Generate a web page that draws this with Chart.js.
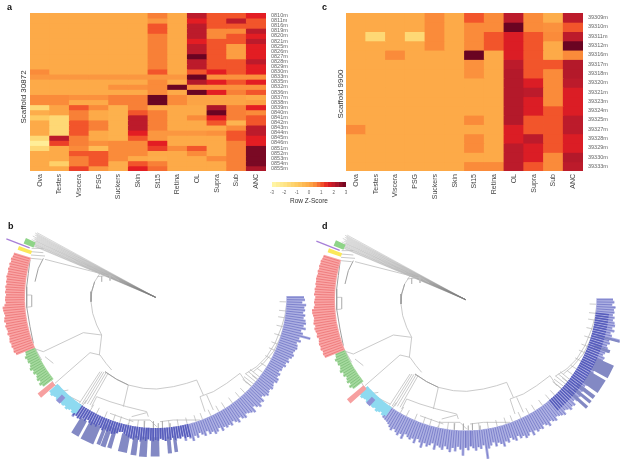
<!DOCTYPE html>
<html><head><meta charset="utf-8">
<script src="https://cdn.jsdelivr.net/npm/chart.js@4/dist/chart.umd.min.js"></script>
<style>
html,body{margin:0;padding:0;background:#fff;width:624px;height:464px;overflow:hidden}
#page{position:relative;width:624px;height:464px;filter:blur(0.55px)}
.p{position:absolute}
.l{position:absolute;font:bold 9px "Liberation Sans";color:#111;line-height:10px}
</style></head><body>
<div id="page">
<div class="l" style="left:7px;top:2px">a</div>
<div class="l" style="left:322px;top:2px">c</div>
<div class="l" style="left:8px;top:221px">b</div>
<div class="l" style="left:322px;top:221px">d</div>
<canvas class="p" id="ca" width="300" height="210" style="left:0;top:0;width:300px;height:210px"></canvas>
<canvas class="p" id="cc" width="324" height="210" style="left:300px;top:0;width:324px;height:210px"></canvas>
<canvas class="p" id="cz" width="100" height="27" style="left:262px;top:178px;width:100px;height:27px"></canvas>
<canvas class="p" id="cb" width="312" height="244" style="left:0;top:220px;width:312px;height:244px"></canvas>
<canvas class="p" id="cd" width="312" height="244" style="left:312px;top:220px;width:312px;height:244px"></canvas>
</div>
<script>
const tissues=['Ova','Testes','Viscera','PSG','Suckers','Skin','St15','Retina','OL','Supra','Sub','ANC'];
const rowsA=['0810m','0811m','0816m','0819m','0820m','0821m','0825m','0826m','0827m','0828m','0829m','0830m','0833m','0835m','0832m','0836m','0837m','0838m','0839m','0840m','0841m','0842m','0843m','0844m','0845m','0846m','0851m','0852m','0853m','0854m','0855m'];
const rowsC=['39309m','39310m','39311m','39312m','39316m','39317m','39318m','39320m','39321m','39323m','39324m','39325m','39327m','39328m','39329m','39330m','39333m'];
const zA=[
[0,0,0,0,0,0,.6,0,2,1,1,1.5],
[0,0,0,0,0,0,.3,0,1.5,1,2,1],
[0,0,0,0,0,0,1,0,2,1,1,1],
[0,0,0,0,0,0,1,0,2,.5,.5,2],
[0,0,0,0,0,0,.6,0,2,.5,1,1.5],
[0,0,0,0,0,0,.6,0,1.5,1,1,2],
[0,0,0,0,0,0,.6,0,2,1,.2,1.5],
[0,0,0,0,0,0,.6,0,2,1,.2,1.5],
[0,0,0,0,0,0,.6,0,3,1,.2,1.5],
[0,0,0,0,0,0,.6,0,2,1,1,2],
[0,0,0,0,0,0,.6,0,2,1,1,1.5],
[.5,0,0,0,0,0,1,0,1,1.5,1,1.5],
[.3,.3,.3,.3,.3,.3,.3,.3,3,.4,.4,.4],
[0,0,0,0,0,0,.5,0,2.1,1.5,1,1.5],
[0,0,0,0,.4,.4,.5,3,.4,.4,.4,.4],
[0,0,0,0,0,0,.5,0,3,1.5,.6,1],
[.5,.5,.4,.4,.6,.6,3,.5,.1,.1,.1,0],
[.5,.5,0,0,.6,.6,3,.5,.1,.1,.1,.2],
[-1.5,.1,1,.5,-.2,.6,0,0,0,2.2,.6,1.5],
[-.1,.1,.6,0,-.2,1,.6,0,0,3,.6,.5],
[-1,-1.5,.6,0,-.2,2,.6,0,.5,1.5,.6,1],
[0,-1.5,1,.6,-.2,2,.6,0,0,1,-.3,1],
[0,-1.5,1,.6,-.2,2,.6,0,0,0,.5,2],
[0,-1.5,1,0,-.2,1.5,.3,.3,.3,.4,1,2],
[-1.5,2,.6,0,-.2,1,.3,0,0,0,1,1.5],
[-2.5,1.2,.6,.4,.5,.5,1.5,0,0,0,.6,1.5],
[-1.5,0,.5,-.5,.5,.5,1.2,.5,1,0,.6,2.8],
[0,0,1,1,.5,.5,0,0,.5,0,.6,2.8],
[0,0,.6,1,.5,0,-.1,0,0,.5,.6,2.8],
[0,-1.2,.6,1,-.1,1,.6,0,0,0,.6,2.8],
[0,0,1.2,.3,-.1,1.5,.8,0,0,0,.6,2.2]];
const zC=[
[0,0,0,0,.5,0,1,.5,2,.5,-.1,2],
[0,0,0,0,.5,0,.5,.5,3,.5,.4,1],
[0,-1.5,0,-1.5,.5,0,.5,1,1.6,1,.5,2],
[0,0,0,0,.5,0,.5,1,1.6,1,0,3],
[0,0,.5,0,0,0,3,0,1.6,1,0,.5],
[0,0,0,0,0,0,.4,0,2,1,1,2.1],
[0,0,0,0,0,0,.4,0,2.1,1,.5,2.1],
[0,0,0,0,0,0,0,0,2.1,1.6,.5,2],
[0,0,0,0,0,0,0,0,2.1,2,.5,1.6],
[0,0,0,0,0,0,0,0,2.1,1.6,.5,1.6],
[0,0,0,0,0,0,0,0,2.1,1.6,1,1.6],
[0,0,0,0,0,0,.5,0,2.1,1,1,2],
[.5,0,0,0,0,0,0,0,1.6,1,1,2],
[0,0,0,0,0,0,.5,0,1.6,2,1,1.6],
[0,0,0,0,0,0,.5,0,2,1.6,1,1.6],
[0,0,0,0,0,0,0,0,2,1.6,.5,2.1],
[0,0,0,0,0,0,.5,.5,2,1,.5,2]];
const zBins=[-3,-2.7,-2.4,-2.1,-1.8,-1.5,-1.2,-.9,-.6,-.3,0,.3,.6,.9,1.2,1.5,1.8,2.1,2.4,2.7];
const zTicks=[-3,-2,-1,0,1,2,3];

// tree branches
const branches=[
[[300,160],[284,185],[275,215],[273,245],[278,280],[290,315],[305,345]],
[[300,160],[135,118]],
[[292,170],[330,165],[358,182]],[[305,168],[305,185]],[[330,165],[330,182]],
[[305,345],[250,338],[130,395]],
[[305,345],[298,405]],
[[270,398],[165,490]],
[[270,398],[300,405],[318,430],[335,450]],
[[315,455],[350,478],[385,495],[430,505],[470,507],[520,500],[560,490],[590,480]],
[[385,495],[370,560]],
[[590,480],[610,525]],
[[600,530],[640,515],[680,490],[720,460]],
[[600,530],[615,575]],[[620,525],[640,570]],
[[720,460],[740,490]],
[[735,462],[770,440],[800,410],[825,370],[845,320],[855,285],[860,250]],
[[760,455],[790,430],[820,395],[840,355],[855,310],[865,265]],
[[745,455],[795,495]],[[738,462],[788,502]],[[732,470],[782,508]],[[728,478],[775,514]],[[750,448],[800,488]],
[[318,458],[262,552]],[[312,456],[254,552]],[[306,455],[246,552]],[[300,455],[238,550]],[[324,460],[270,555]],
[[290,530],[330,545],[380,560],[440,575]],[[290,530],[275,560]],[[440,575],[445,590]],
[[395,590],[440,578]],[[390,600],[450,600],[470,620]],[[385,610],[380,625]],
[[480,605],[520,600],[600,600]],[[475,610],[475,625]],[[510,610],[510,625]],
[[330,580],[400,605]],
[[100,390],[130,440],[160,490],[200,530]],
[[78,225],[95,225],[95,260],[78,262]],
[[100,385],[130,395]],[[105,385],[125,420]],
[[95,85],[130,85]],[[93,95],[130,98]],[[93,105],[135,108]],[[93,115],[125,118]],
[[135,410],[160,430]],[[180,515],[205,510]],[[200,525],[240,545]]];
const darkBranches=[
[[315,455],[350,478],[385,495]],
[[610,600],[680,570],[750,530],[790,490]],
[[90,120],[85,160],[80,200],[80,260],[90,320],[100,370]],
[[130,115],[115,145],[105,185]],
[[284,185],[275,215],[273,245]]];
const treeRoot=[467,232];
const wedgeAngles=[202.8,203.1,203.5,203.8,204.2,204.6,205,205.3,205.7,206.1,206.5,206.9,207.3,207.7,208.1,208.6];
const wedgeEnds=[402,396,408,398,404,400,410,398,406,402,412,400,408,404,410,405];
const twigAngles=[2,6,9,13,17,21,24,28,32,35,39,43,47,50,54,58,61,65,69,72,76,80,84,87,91,95,98,102,106,109,113,117,120,124];

const ringInner=392;
const blueOuterB=[445,448,440,452,447,450,445,452,448,455,458,452,460,448,455,480,448,455,445,450,452,448,445,450,447,440,445,438,442,436,437,432,440,436,444,445,438,442,446,440,444,448,442,436,450,446,455,448,440,456,450,446,442,452,448,440,452,445,438,448,442,446,440,449,436,444,448,438,442,430,442,435,428,440,432,446,436,430,440,425,430,428,436,424,430,426,432,428,424,430,428,434,430,426,432,428,436,430,426,432,430,428,424,420,416,418,424,428,430,424,428,424,430,426,420,428,424,430,426,420,428,424,430,432,428,436];
const blueOuterD=[442,446,440,450,446,448,444,450,446,452,455,448,456,446,452,478,448,452,446,450,456,448,444,452,450,442,446,440,444,440,442,438,444,440,448,446,442,448,446,444,450,448,452,444,456,452,458,450,446,457,452,448,444,454,450,444,456,448,442,452,448,452,444,456,442,450,454,444,448,438,450,444,436,448,442,456,446,440,450,436,444,452,482,440,450,444,454,446,440,452,444,468,450,442,456,446,460,452,444,456,450,446,460,442,450,456,448,464,450,442,458,446,452,448,442,460,448,456,450,444,452,446,440,436,434,432];
const blueBarsB=[[119,122,425,478],[113,118,420,480],[110.6,112,410,474],[108.5,110.4,410,475],[106.3,107.9,410,473],[100.5,103.8,420,475],[97,99.1,420,478],[93.2,96,420,480],[88.6,91.8,420,478],[84,85.5,420,470],[81.7,83,420,468]];
const blueBarsD=[[24,29,430,487],[30,35.3,430,485],[19.3,20.5,410,460],[36.5,38,420,484],[38.8,40,420,485],[41,42.2,410,487],[15,15.7,410,478]];
const darkSpanB=[76,125];
const darkSpanD=[6,50];
const cyanOuter=[424,428,422,426,430,424,428,426,422,428,424,426,430,426];
const greenOuter=[430,436,428,434,430,426,432,428,435,430,426,430,428,432,426,424];
const redOuterB=[452,456,454,457,455,458,456,454,458,455,457,459,456,460,458,455,457,459,460,454,450,452,451,449,452,450,452,449,451,450,452,450,449,451,448,450,447,449,446,445];
const redOuterD=[456,458,456,460,458,460,458,456,460,458,460,462,458,462,460,458,460,462,462,456,453,455,453,451,455,453,454,451,453,452,453,452,450,452,449,451,449,450,447,446];
const pinkLongB=[138.8,140.8,400,457];
const pinkLongD=[138,140,400,465];
const smallBlue=[132,134,405,430];
const yellowLeaf=[199,200.6,396,438];
const purpleLeaf=[201.4,406,481];
const greenTop=[202.2,204.6,396,428];

const stops=[[-3,[255,247,168]],[-2,[254,228,135]],[-1,[254,203,98]],[0,[253,170,72]],[.5,[250,139,58]],[1,[242,85,43]],[1.5,[227,29,35]],[2,[188,27,43]],[3,[106,4,34]]];
function zColor(z){
  for(let i=1;i<stops.length;i++){ if(z<=stops[i][0]){
    const a=stops[i-1],b=stops[i],t=(z-a[0])/(b[0]-a[0]);
    return 'rgb('+a[1].map((v,k)=>Math.round(v+(b[1][k]-v)*t)).join(',')+')';
  }}
  return 'rgb(106,4,34)';
}
Chart.defaults.animation=false;
Chart.defaults.responsive=false;
Chart.defaults.font.family='"Liberation Sans"';
Chart.defaults.plugins.legend.display=false;
Chart.defaults.plugins.tooltip.enabled=false;

function heat(id,rows,z,yTitle,leftW,rightW,titlePad,titleShift){
  new Chart(document.getElementById(id),{type:'bar',
   plugins:[{id:'titleShift',afterLayout(c){const s=c.scales.yL;s.top+=titleShift;s.bottom+=titleShift}}],
   data:{labels:tissues,datasets:z.map((row,r)=>({data:row.map(()=>[r,r+1]),backgroundColor:row.map(zColor),borderWidth:0,inflateAmount:.4,barPercentage:1,categoryPercentage:1,grouped:false,yAxisID:'y'}))},
   options:{layout:{padding:{top:13,left:0,right:0,bottom:0}},
    scales:{
     x:{grid:{display:false,drawTicks:false},border:{display:false},afterFit(s){s.height=39},
        ticks:{autoSkip:false,minRotation:90,maxRotation:90,padding:3,color:'#444',font:{size:7}}},
     y:{position:'right',reverse:true,min:0,max:rows.length,grid:{display:false,drawTicks:false},border:{display:false},
        afterBuildTicks(s){s.ticks=rows.map((_,i)=>({value:i+.5}))},afterFit(s){s.width=rightW},
        ticks:{autoSkip:false,padding:5,color:'#666',font:{size:5.5},callback:v=>rows[Math.round(v-.5)]}},
     yL:{position:'left',min:0,max:1,grid:{display:false,drawTicks:false},border:{display:false},ticks:{display:false},afterFit(s){s.width=leftW},
        title:{display:true,text:yTitle,color:'#333',font:{size:8},padding:{top:titlePad,bottom:0}}}
    }}});
}
heat('ca',rowsA,zA,'Scaffold 30872',30,34,19,5);
heat('cc',rowsC,zC,'Scaffold 9900',46,41,36,2);

new Chart(document.getElementById('cz'),{type:'bar',
 data:{labels:['z'],datasets:zBins.map(b=>({data:[[b,+(b+.3).toFixed(1)]],backgroundColor:zColor(b+.15),borderWidth:0,inflateAmount:.3,barPercentage:1,categoryPercentage:1,grouped:false}))},
 options:{indexAxis:'y',layout:{padding:{top:4,left:10,right:16,bottom:0}},
  scales:{y:{display:false},
   x:{min:-3,max:3,grid:{display:false,drawTicks:false},border:{display:false},afterFit(s){s.height=18},
      afterBuildTicks(s){s.ticks=zTicks.map(v=>({value:v}))},
      ticks:{autoSkip:false,maxRotation:0,padding:3,color:'#666',font:{size:4.5},callback:v=>v},
      title:{display:true,text:'Row Z-Score',color:'#333',font:{size:6.5},padding:{top:1,bottom:0}}}}}});

const pt=(a,r)=>{const t=a*Math.PI/180;return {x:treeRoot[0]+r*Math.cos(t),y:treeRoot[1]+r*Math.sin(t)}};
const GAP={x:NaN,y:NaN};
const line=(data,color,w)=>({type:'scatter',showLine:true,pointRadius:0,spanGaps:false,borderColor:color,borderWidth:w,borderCapStyle:'butt',data});
const quad=(s,color)=>({type:'scatter',showLine:true,pointRadius:0,borderWidth:0,borderColor:color,backgroundColor:color,fill:'shape',
  data:[pt(s[0],s[2]),pt(s[1],s[2]),pt(s[1],s[3]),pt(s[0],s[3])]});
function leaves(start,outer,inner){
  const d=[];outer.forEach((o,i)=>{d.push(pt(start+i,inner),pt(start+i,o),GAP)});return d;
}
function core(start,outer,inner,from,to){
  const d=[];outer.forEach((o,i)=>{const a=start+i;if(a>=from&&a<=to){d.push(pt(a,inner),pt(a,o),GAP)}});return d;
}
const asSegs=list=>{const s=[];list.forEach(b=>{b.forEach(p=>s.push({x:p[0],y:p[1]}));s.push(GAP)});return s};
function tree(id,blueOuter,redOuter,bars,dark,pink,ox,oy){
  const ds=[];
  const w=[];wedgeAngles.forEach((a,i)=>{w.push(pt(a,0),pt(a,wedgeEnds[i]),GAP)});
  const tw=[];twigAngles.forEach(a=>{tw.push(pt(a,372),pt(a,ringInner),GAP)});
  ds.push(line(w,'rgba(125,125,125,.6)',.5));
  ds.push(line(asSegs(branches),'#bcbcbc',.8));
  ds.push(line(asSegs(darkBranches),'#a0a0a0',1));
  ds.push(line(tw,'#a8a8a8',.6));
  ds.push(line(leaves(0,blueOuter,ringInner),'#adb0e2',2.8));
  ds.push(line(core(0,blueOuter,ringInner+2,0,125),'#787dca',.9));
  bars.forEach(b=>ds.push(quad(b,'#8389c4')));
  ds.push(line(core(0,blueOuter.map(o=>Math.min(o,432)),ringInner,dark[0],dark[1]),'#565cbc',1.5));
  ds.push(line(leaves(125,cyanOuter,ringInner),'#8edaf0',3));
  ds.push(line(leaves(142,greenOuter,ringInner),'#a5d99e',3));
  ds.push(line(core(142,greenOuter,ringInner+3,142,158),'#76b971',.7));
  ds.push(line(leaves(158,redOuter,ringInner),'#f9a5a5',3));
  ds.push(line(core(158,redOuter,ringInner+3,158,198),'#ec7475',.8));
  ds.push(quad(pink,'#f7a0a0'));
  ds.push(quad(smallBlue,'#8f93d6'));
  ds.push(quad(yellowLeaf,'#fbe85a'));
  ds.push(quad(greenTop,'#8fd488'));
  ds.push(line([pt(purpleLeaf[0],purpleLeaf[1]),pt(purpleLeaf[0],purpleLeaf[2])],'#a77fd8',1.3));
  ds.reverse();
  new Chart(document.getElementById(id),{type:'scatter',data:{datasets:ds},
   options:{layout:{padding:0},scales:{
    x:{display:false,type:'linear',min:ox,max:ox+936},
    y:{display:false,type:'linear',min:oy,max:oy+732,reverse:true}}}});
}
tree('cb',blueOuterB,redOuterB,blueBarsB,darkSpanB,pinkLongB,0,0);
tree('cd',blueOuterD,redOuterD,blueBarsD,darkSpanD,pinkLongD,6,-7);
</script></body></html>
